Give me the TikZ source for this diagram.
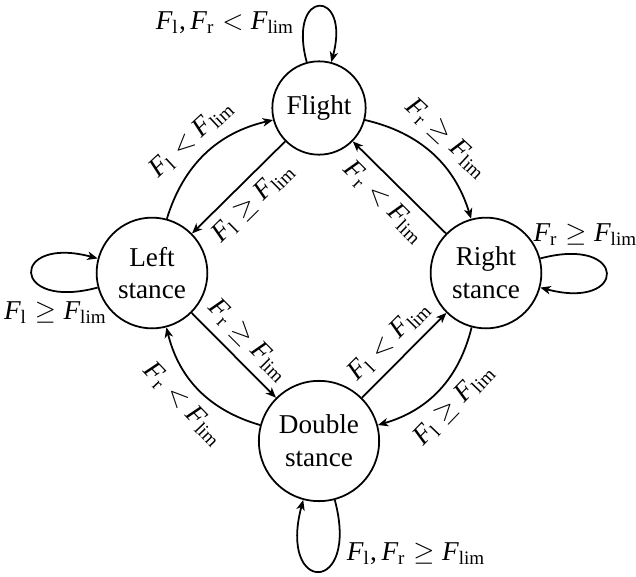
\documentclass[tikz,border=0pt]{standalone}
\usepackage{fontspec}
\setmainfont{Liberation Serif}
\newfontfamily\libserif[NFSSFamily=libsr]{Liberation Serif}
\SetSymbolFont{letters}{normal}{TU}{libsr}{m}{it}
\SetSymbolFont{letters}{bold}{TU}{libsr}{b}{it}
\DeclareSymbolFont{cmletters}{OML}{cmm}{m}{it}
\DeclareMathSymbol{<}{\mathrel}{cmletters}{"3C}
\newcommand{\mcomma}{\mathpunct{\mbox{,}}}
\usetikzlibrary{arrows.meta}
\begin{document}
\begin{tikzpicture}[x=0.3677pt,y=-0.3677pt,
  every loop/.style={},
  state/.style={circle,draw,line width=0.65pt,align=center,font=\fontsize{10}{12}\selectfont},
  tr/.style={draw,-{Stealth[length=3.8pt,width=3.1pt,inset=1.1pt]},line width=0.65pt},
  txt/.style={font=\fontsize{10}{12}\selectfont},
  lbl/.style={txt,sloped}]
\useasboundingbox (0,0) rectangle (636,576);
\node[state] (F) at (319,108) {Flight};
\node[state] (L) at (152,273) {Left\\stance};
\node[state] (R) at (486,273) {Right\\stance};
\node[state] (D) at (319,441) {Double\\stance};
% self loops
\path (F) edge[loop above,tr] node[pos=0.23,left,txt] {$F_\mathrm{l}\mcomma F_\mathrm{r} < F_\mathrm{lim}$} ();
\path (R) edge[loop right,tr] node[pos=0.22,above,txt] {$F_\mathrm{r} \geq F_\mathrm{lim}$} ();
\path (L) edge[loop left,tr] node[pos=0.2,below,txt] {$F_\mathrm{l} \geq F_\mathrm{lim}$} ();
\path (D) edge[loop below,tr] node[pos=0.25,right,txt] {$F_\mathrm{l}\mcomma F_\mathrm{r} \geq F_\mathrm{lim}$} ();
% curved outer transitions
\path (L) edge[tr,bend left=30] node[lbl,above] {$F_\mathrm{l} < F_\mathrm{lim}$} (F);
\path (F) edge[tr,bend left=30] node[lbl,above] {$F_\mathrm{r} \geq F_\mathrm{lim}$} (R);
\path (R) edge[tr,bend left=30] node[lbl,below] {$F_\mathrm{l} \geq F_\mathrm{lim}$} (D);
\path (D) edge[tr,bend left=30] node[lbl,below] {$F_\mathrm{r} < F_\mathrm{lim}$} (L);
% straight inner transitions
\path (F) edge[tr] node[lbl,below] {$F_\mathrm{l} \geq F_\mathrm{lim}$} (L);
\path (R) edge[tr] node[lbl,below] {$F_\mathrm{r} < F_\mathrm{lim}$} (F);
\path (L) edge[tr] node[lbl,above] {$F_\mathrm{r} \geq F_\mathrm{lim}$} (D);
\path (D) edge[tr] node[lbl,above] {$F_\mathrm{l} < F_\mathrm{lim}$} (R);
\end{tikzpicture}
\end{document}
